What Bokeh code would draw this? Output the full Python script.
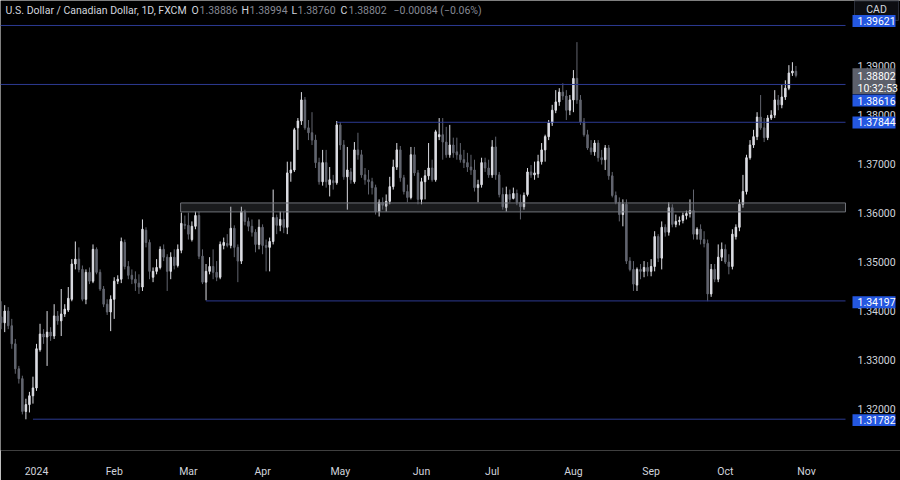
from bokeh.plotting import figure
from bokeh.models import Range1d, FixedTicker, Label, PrintfTickFormatter
from bokeh.core.properties import value
from bokeh.embed import file_html
from bokeh.resources import INLINE

# ---------------- data (USD/CAD daily, FXCM) ----------------
opens = [
    1.3387, 1.3375, 1.3399, 1.3369, 1.3332, 1.3281, 1.3261, 1.3194, 1.3208, 1.3226,
    1.3242, 1.3320, 1.3352, 1.3346, 1.3356, 1.3348, 1.3389, 1.3379, 1.3393, 1.3401,
    1.3423, 1.3495, 1.3505, 1.3484, 1.3423, 1.3478, 1.3460, 1.3525, 1.3478, 1.3444,
    1.3413, 1.3397, 1.3423, 1.3460, 1.3464, 1.3539, 1.3490, 1.3472, 1.3464, 1.3456,
    1.3448, 1.3564, 1.3539, 1.3468, 1.3480, 1.3488, 1.3525, 1.3509, 1.3480, 1.3509,
    1.3492, 1.3523, 1.3576, 1.3574, 1.3545, 1.3572, 1.3594, 1.3511, 1.3458, 1.3480,
    1.3490, 1.3478, 1.3468, 1.3533, 1.3537, 1.3533, 1.3568, 1.3529, 1.3501, 1.3600,
    1.3582, 1.3572, 1.3560, 1.3535, 1.3570, 1.3533, 1.3529, 1.3541, 1.3590, 1.3574,
    1.3586, 1.3570, 1.3681, 1.3687, 1.3773, 1.3787, 1.3830, 1.3773, 1.3763, 1.3748,
    1.3702, 1.3663, 1.3702, 1.3657, 1.3665, 1.3661, 1.3779, 1.3738, 1.3673, 1.3683,
    1.3663, 1.3728, 1.3718, 1.3677, 1.3667, 1.3663, 1.3651, 1.3602, 1.3621, 1.3613,
    1.3623, 1.3653, 1.3693, 1.3728, 1.3671, 1.3643, 1.3631, 1.3718, 1.3681, 1.3627,
    1.3663, 1.3675, 1.3691, 1.3667, 1.3755, 1.3759, 1.3744, 1.3718, 1.3738, 1.3724,
    1.3718, 1.3708, 1.3702, 1.3693, 1.3687, 1.3651, 1.3657, 1.3702, 1.3691, 1.3677,
    1.3734, 1.3677, 1.3637, 1.3610, 1.3637, 1.3629, 1.3639, 1.3621, 1.3612, 1.3637,
    1.3683, 1.3677, 1.3679, 1.3704, 1.3728, 1.3755, 1.3783, 1.3809, 1.3826, 1.3846,
    1.3838, 1.3809, 1.3830, 1.3874, 1.3830, 1.3785, 1.3759, 1.3732, 1.3724, 1.3742,
    1.3712, 1.3708, 1.3732, 1.3675, 1.3635, 1.3621, 1.3596, 1.3617, 1.3501, 1.3484,
    1.3452, 1.3484, 1.3480, 1.3488, 1.3480, 1.3490, 1.3551, 1.3507, 1.3570, 1.3560,
    1.3610, 1.3576, 1.3582, 1.3584, 1.3594, 1.3598, 1.3604, 1.3556, 1.3566, 1.3545,
    1.3537, 1.3434, 1.3484, 1.3464, 1.3509, 1.3525, 1.3499, 1.3490, 1.3551, 1.3570,
    1.3617, 1.3643, 1.3712, 1.3738, 1.3755, 1.3795, 1.3773, 1.3753, 1.3793, 1.3799,
    1.3830, 1.3820, 1.3836, 1.3854, 1.3885, 1.38886,
]
highs = [
    1.3419, 1.3411, 1.3407, 1.3383, 1.3342, 1.3287, 1.3267, 1.3220, 1.3234, 1.3265,
    1.3332, 1.3373, 1.3362, 1.3399, 1.3366, 1.3413, 1.3399, 1.3444, 1.3413, 1.3448,
    1.3505, 1.3541, 1.3529, 1.3492, 1.3484, 1.3488, 1.3535, 1.3529, 1.3484, 1.3450,
    1.3423, 1.3431, 1.3468, 1.3472, 1.3549, 1.3545, 1.3501, 1.3484, 1.3480, 1.3474,
    1.3586, 1.3570, 1.3545, 1.3488, 1.3505, 1.3531, 1.3535, 1.3515, 1.3519, 1.3525,
    1.3535, 1.3600, 1.3594, 1.3600, 1.3582, 1.3602, 1.3602, 1.3525, 1.3495, 1.3509,
    1.3525, 1.3501, 1.3541, 1.3549, 1.3556, 1.3612, 1.3574, 1.3535, 1.3612, 1.3606,
    1.3590, 1.3586, 1.3566, 1.3586, 1.3576, 1.3545, 1.3549, 1.3647, 1.3596, 1.3602,
    1.3602, 1.3704, 1.3704, 1.3773, 1.3793, 1.3846, 1.3836, 1.3789, 1.3805, 1.3759,
    1.3712, 1.3728, 1.3728, 1.3693, 1.3677, 1.3787, 1.3785, 1.3748, 1.3734, 1.3691,
    1.3744, 1.3763, 1.3728, 1.3691, 1.3687, 1.3671, 1.3657, 1.3627, 1.3631, 1.3637,
    1.3673, 1.3708, 1.3742, 1.3736, 1.3677, 1.3657, 1.3734, 1.3734, 1.3687, 1.3671,
    1.3687, 1.3742, 1.3708, 1.3769, 1.3793, 1.3793, 1.3775, 1.3779, 1.3753, 1.3753,
    1.3742, 1.3728, 1.3722, 1.3718, 1.3708, 1.3667, 1.3712, 1.3712, 1.3708, 1.3748,
    1.3755, 1.3683, 1.3651, 1.3653, 1.3647, 1.3651, 1.3647, 1.3637, 1.3641, 1.3691,
    1.3697, 1.3704, 1.3718, 1.3742, 1.3759, 1.3789, 1.3820, 1.3850, 1.3854, 1.3864,
    1.3850, 1.3840, 1.3891, 1.3948, 1.3840, 1.3793, 1.3769, 1.3748, 1.3748, 1.3748,
    1.3728, 1.3738, 1.3738, 1.3683, 1.3643, 1.3631, 1.3627, 1.3627, 1.3509, 1.3501,
    1.3488, 1.3495, 1.3501, 1.3499, 1.3505, 1.3562, 1.3556, 1.3582, 1.3576, 1.3621,
    1.3617, 1.3596, 1.3592, 1.3600, 1.3604, 1.3627, 1.3647, 1.3570, 1.3576, 1.3562,
    1.3545, 1.3495, 1.3495, 1.3535, 1.3539, 1.3535, 1.3515, 1.3566, 1.3576, 1.3627,
    1.3677, 1.3718, 1.3748, 1.3769, 1.3805, 1.3840, 1.3793, 1.3799, 1.3809, 1.3850,
    1.3840, 1.3862, 1.3870, 1.3901, 1.3907, 1.38994,
]
lows = [
    1.3362, 1.3356, 1.3362, 1.3322, 1.3271, 1.3251, 1.3188, 1.3178, 1.3192, 1.3210,
    1.3236, 1.3316, 1.3332, 1.3287, 1.3338, 1.3342, 1.3371, 1.3348, 1.3387, 1.3397,
    1.3419, 1.3484, 1.3478, 1.3419, 1.3413, 1.3454, 1.3456, 1.3474, 1.3440, 1.3407,
    1.3391, 1.3358, 1.3383, 1.3454, 1.3456, 1.3484, 1.3464, 1.3454, 1.3440, 1.3434,
    1.3440, 1.3529, 1.3464, 1.3458, 1.3474, 1.3484, 1.3501, 1.3440, 1.3464, 1.3484,
    1.3488, 1.3517, 1.3566, 1.3545, 1.3541, 1.3566, 1.3505, 1.3454, 1.3421, 1.3474,
    1.3464, 1.3460, 1.3464, 1.3525, 1.3529, 1.3527, 1.3509, 1.3458, 1.3495, 1.3574,
    1.3562, 1.3551, 1.3519, 1.3525, 1.3515, 1.3480, 1.3480, 1.3535, 1.3556, 1.3562,
    1.3558, 1.3556, 1.3663, 1.3683, 1.3728, 1.3779, 1.3769, 1.3748, 1.3738, 1.3691,
    1.3657, 1.3655, 1.3651, 1.3633, 1.3647, 1.3657, 1.3728, 1.3667, 1.3606, 1.3659,
    1.3659, 1.3708, 1.3671, 1.3657, 1.3637, 1.3637, 1.3596, 1.3592, 1.3606, 1.3602,
    1.3617, 1.3647, 1.3687, 1.3663, 1.3637, 1.3621, 1.3627, 1.3675, 1.3617, 1.3617,
    1.3627, 1.3667, 1.3663, 1.3663, 1.3748, 1.3708, 1.3712, 1.3712, 1.3712, 1.3708,
    1.3702, 1.3691, 1.3683, 1.3677, 1.3643, 1.3621, 1.3651, 1.3683, 1.3671, 1.3671,
    1.3667, 1.3631, 1.3606, 1.3602, 1.3621, 1.3627, 1.3615, 1.3586, 1.3606, 1.3633,
    1.3671, 1.3667, 1.3671, 1.3698, 1.3704, 1.3748, 1.3777, 1.3803, 1.3818, 1.3830,
    1.3789, 1.3799, 1.3805, 1.3822, 1.3779, 1.3755, 1.3728, 1.3718, 1.3716, 1.3704,
    1.3698, 1.3687, 1.3667, 1.3631, 1.3617, 1.3582, 1.3572, 1.3495, 1.3480, 1.3440,
    1.3440, 1.3464, 1.3468, 1.3470, 1.3470, 1.3480, 1.3499, 1.3484, 1.3551, 1.3553,
    1.3570, 1.3570, 1.3574, 1.3578, 1.3586, 1.3590, 1.3545, 1.3545, 1.3535, 1.3529,
    1.3419, 1.3428, 1.3458, 1.3458, 1.3501, 1.3495, 1.3474, 1.3484, 1.3545, 1.3562,
    1.3610, 1.3637, 1.3708, 1.3732, 1.3748, 1.3769, 1.3744, 1.3748, 1.3789, 1.3793,
    1.3809, 1.3813, 1.3830, 1.3850, 1.3879, 1.38760,
]
closes = [
    1.3375, 1.3399, 1.3369, 1.3332, 1.3281, 1.3261, 1.3194, 1.3208, 1.3226, 1.3242,
    1.3322, 1.3352, 1.3346, 1.3356, 1.3348, 1.3389, 1.3379, 1.3393, 1.3403, 1.3425,
    1.3495, 1.3505, 1.3484, 1.3423, 1.3478, 1.3460, 1.3525, 1.3478, 1.3444, 1.3413,
    1.3397, 1.3423, 1.3460, 1.3464, 1.3541, 1.3490, 1.3472, 1.3464, 1.3456, 1.3448,
    1.3566, 1.3539, 1.3480, 1.3480, 1.3488, 1.3525, 1.3509, 1.3480, 1.3509, 1.3492,
    1.3525, 1.3578, 1.3574, 1.3556, 1.3572, 1.3594, 1.3511, 1.3458, 1.3480, 1.3490,
    1.3478, 1.3468, 1.3535, 1.3539, 1.3533, 1.3568, 1.3529, 1.3501, 1.3602, 1.3582,
    1.3572, 1.3560, 1.3535, 1.3570, 1.3533, 1.3529, 1.3541, 1.3590, 1.3574, 1.3586,
    1.3570, 1.3681, 1.3687, 1.3769, 1.3787, 1.3830, 1.3773, 1.3763, 1.3748, 1.3702,
    1.3663, 1.3702, 1.3663, 1.3667, 1.3661, 1.3779, 1.3738, 1.3673, 1.3687, 1.3667,
    1.3728, 1.3718, 1.3677, 1.3667, 1.3663, 1.3651, 1.3602, 1.3621, 1.3615, 1.3623,
    1.3653, 1.3693, 1.3728, 1.3671, 1.3643, 1.3631, 1.3718, 1.3681, 1.3627, 1.3663,
    1.3675, 1.3691, 1.3667, 1.3765, 1.3759, 1.3744, 1.3718, 1.3738, 1.3722, 1.3718,
    1.3708, 1.3702, 1.3693, 1.3687, 1.3651, 1.3657, 1.3702, 1.3691, 1.3677, 1.3734,
    1.3677, 1.3637, 1.3612, 1.3637, 1.3627, 1.3639, 1.3621, 1.3612, 1.3635, 1.3683,
    1.3677, 1.3681, 1.3704, 1.3728, 1.3755, 1.3783, 1.3809, 1.3826, 1.3846, 1.3838,
    1.3809, 1.3830, 1.3874, 1.3830, 1.3785, 1.3759, 1.3732, 1.3724, 1.3742, 1.3712,
    1.3708, 1.3732, 1.3675, 1.3635, 1.3621, 1.3596, 1.3617, 1.3501, 1.3484, 1.3454,
    1.3484, 1.3480, 1.3488, 1.3480, 1.3490, 1.3551, 1.3507, 1.3570, 1.3560, 1.3610,
    1.3576, 1.3582, 1.3584, 1.3594, 1.3598, 1.3604, 1.3556, 1.3566, 1.3545, 1.3537,
    1.3434, 1.3484, 1.3464, 1.3509, 1.3525, 1.3499, 1.3490, 1.3556, 1.3570, 1.3617,
    1.3643, 1.3712, 1.3738, 1.3755, 1.3795, 1.3773, 1.3753, 1.3793, 1.3799, 1.3830,
    1.3820, 1.3836, 1.3854, 1.3885, 1.3889, 1.38802,
]

month_ticks = [10, 32, 53, 74, 96, 119, 139, 162, 184, 205, 228]
month_labels = ["2024", "Feb", "Mar", "Apr", "May", "Jun", "Jul", "Aug", "Sep", "Oct", "Nov"]
price_ticks = [1.32, 1.33, 1.34, 1.35, 1.36, 1.37, 1.38, 1.39]

level_prices = [1.3982, 1.38616, 1.37844, 1.34197, 1.31782]
level_texts = ["1.39621", "1.38616", "1.37844", "1.34197", "1.31782"]
level_starts = [None, None, 95, 58, 9]
zone_low, zone_high, zone_start = 1.36014, 1.36197, 50.8

last_texts = ["1.38802", "10:32:53"]
header_title = "U.S. Dollar / Canadian Dollar, 1D, FXCM"
header_keys = ["O", "H", "L", "C"]
header_vals = ["1.38886", "1.38994", "1.38760", "1.38802"]
header_change = "\u22120.00084 (\u22120.06%)"

# ---------------- geometry / style ----------------
FONT = "Roboto"
FS = "10.5px"
UP = "#dcdde3"
DOWN = "#62656f"
TXT = "#d1d4dc"
GRAYTXT = "#868993"
LINE_BLUE = "#2c3a92"
BOX_BLUE = "#2457e0"

W, H, FW, FH = 900, 480, 900, 452
X0, X1 = -0.19, 254.6
Y0, Y1 = 1.31143, 1.40330


def px_x(px):
    return X0 + px / FW * (X1 - X0)


def px_y(py):
    return Y1 - py / FH * (Y1 - Y0)


SCALE_X = px_x(845)

p = figure(width=W, height=H,
           x_range=Range1d(X0, X1), y_range=Range1d(Y0, Y1),
           output_backend="svg", toolbar_location=None,
           y_axis_location="right",
           min_border_left=0, min_border_top=0, min_border_right=0, min_border_bottom=28,
           background_fill_color="#000000", border_fill_color="#000000",
           outline_line_color=None)
p.grid.visible = False

for ax in (p.xaxis[0], p.yaxis[0]):
    ax.axis_line_color = None
    ax.major_tick_line_color = None
    ax.minor_tick_line_color = None
    ax.major_label_text_color = TXT
    ax.major_label_text_font = FONT
    ax.major_label_text_font_size = FS

p.xaxis.ticker = FixedTicker(ticks=month_ticks)
p.xaxis.major_label_overrides = {t: l for t, l in zip(month_ticks, month_labels)}
p.xaxis.major_label_standoff = 8
p.yaxis.ticker = FixedTicker(ticks=price_ticks)
p.yaxis.formatter = PrintfTickFormatter(format="%.5f")
p.yaxis.fixed_location = SCALE_X
p.yaxis.major_label_standoff = 12
p.yaxis.major_tick_out = 0
p.yaxis.major_tick_in = 0

# ---------------- candles ----------------
xs = list(range(len(opens)))
tops = [max(o, c) for o, c in zip(opens, closes)]
bots = [min(o, c) for o, c in zip(opens, closes)]
cols = [UP if c >= o else DOWN for o, c in zip(opens, closes)]
p.segment(x0=xs, y0=lows, x1=xs, y1=highs, line_color=cols, line_width=1)
p.vbar(x=xs, width=0.42, top=tops, bottom=bots, fill_color=cols, line_color=cols, line_width=1)

# ---------------- levels & zone ----------------
p.quad(left=[zone_start], right=[SCALE_X], bottom=[zone_low], top=[zone_high],
       fill_color="#787b86", fill_alpha=0.22, line_color="#6f7178", line_width=1)
x_starts = [X0 if s is None else s for s in level_starts]
p.segment(x0=x_starts, y0=level_prices, x1=[SCALE_X] * len(level_prices), y1=level_prices,
          line_color=LINE_BLUE, line_width=1)

# ---------------- price scale overlays (drawn above the axis labels) ----------------
# currency button
p.quad(left=[px_x(854)], right=[px_x(898)], top=[px_y(0.5)], bottom=[px_y(20)],
       fill_color="#0d0e12", line_color="#2a2e39", line_width=1, level="overlay")
p.text(x=[px_x(876)], y=[px_y(9.5)], text=["CAD"],
       text_color=TXT, text_font=value(FONT), text_font_size=FS,
       text_baseline="middle", text_align="center", level="overlay")

BX0, BX1, TX = px_x(852), px_x(895), px_x(857)
box_centers = [20.5, 100.5, 122.5, 303, 421.5]
box_h = 12
p.quad(left=[BX0] * 5, right=[BX1] * 5,
       top=[px_y(c - box_h / 2) for c in box_centers],
       bottom=[px_y(c + box_h / 2) for c in box_centers],
       fill_color=BOX_BLUE, line_color=None, level="overlay")
p.text(x=[TX] * 5, y=[px_y(c) for c in box_centers], text=level_texts,
       text_color="#ffffff", text_font=value(FONT), text_font_size=FS,
       text_baseline="middle", text_align="left", level="overlay")
# last price + countdown
p.quad(left=[BX0], right=[BX1], top=[px_y(68)], bottom=[px_y(94)],
       fill_color="#5d606b", line_color=None, level="overlay")
p.text(x=[TX, TX], y=[px_y(75.5), px_y(88)], text=last_texts,
       text_color="#ffffff", text_font=value(FONT), text_font_size=FS,
       text_baseline="middle", text_align="left", level="overlay")

# ---------------- header ----------------
HY = px_y(10)
p.add_layout(Label(x=px_x(5), y=HY, text=header_title, text_font=FONT, text_font_size=FS,
                   text_color=TXT, text_baseline="middle", text_align="left"))
key_px = [191, 241, 291, 340]
val_px = [199, 249, 297, 348]
for k, v, kx, vx in zip(header_keys, header_vals, key_px, val_px):
    p.add_layout(Label(x=px_x(kx), y=HY, text=k, text_font=FONT, text_font_size=FS,
                       text_color=TXT, text_baseline="middle", text_align="left"))
    p.add_layout(Label(x=px_x(vx), y=HY, text=v, text_font=FONT, text_font_size=FS,
                       text_color=GRAYTXT, text_baseline="middle", text_align="left"))
p.add_layout(Label(x=px_x(393), y=HY, text=header_change, text_font=FONT, text_font_size=FS,
                   text_color=GRAYTXT, text_baseline="middle", text_align="left"))

open("out.html", "w").write(file_html(p, INLINE))
